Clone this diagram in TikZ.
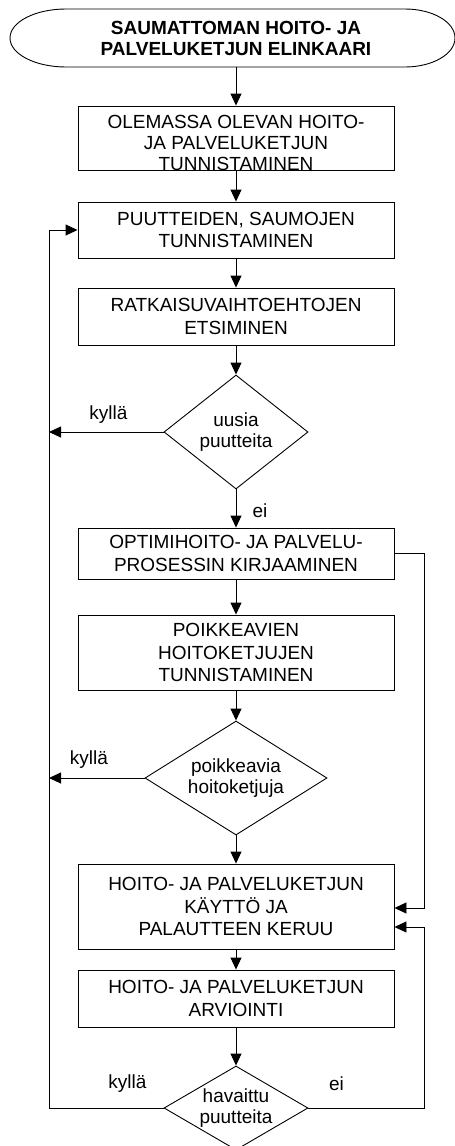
\documentclass[tikz,border=0pt]{standalone}
\usepackage{fontspec}
\setmainfont{Liberation Sans}
\usetikzlibrary{shapes.geometric,arrows.meta,calc}
\begin{document}
\begin{tikzpicture}[x=1pt,y=1pt,
  every node/.style={font=\fontsize{19}{22.5}\selectfont},
  procbox/.style={draw, line width=0.9pt, minimum width=316pt, inner sep=0pt, align=center},
  decision/.style={draw, diamond, line width=0.9pt, inner sep=0pt, align=center,
    font=\fontsize{19}{21.5}\selectfont},
  flow/.style={line width=0.9pt, -{Triangle[length=12pt,width=11pt]}},
  lbl/.style={inner sep=0pt}]
\clip (0,0) rectangle (455,-1146);

% terminator with elliptical ends
\draw[line width=0.9pt] (66,-9) -- (405,-9)
  arc[start angle=90,end angle=-90,x radius=50,y radius=29] -- (66,-67)
  arc[start angle=270,end angle=90,x radius=56,y radius=29] -- cycle;
\node[minimum height=58pt, inner sep=0pt, align=center,
  font=\bfseries\fontsize{19}{21}\selectfont] (title) at (236,-38)
  {SAUMATTOMAN HOITO- JA\\PALVELUKETJUN ELINKAARI};

% process boxes
\node[procbox, minimum height=64pt] (b1) at (236,-138) {};
\node[lbl, align=center, font=\fontsize{19}{20.9}\selectfont] (b1text) at (236,-142.7)
  {OLEMASSA OLEVAN HOITO-\\JA PALVELUKETJUN\\TUNNISTAMINEN};
\node[procbox, minimum height=56pt] (b2) at (236,-230) {PUUTTEIDEN, SAUMOJEN\\TUNNISTAMINEN};
\node[procbox, minimum height=57pt] (b3) at (236,-316.5) {RATKAISUVAIHTOEHTOJEN\\ETSIMINEN};
\node[decision, minimum width=144pt, minimum height=114pt, aspect=1.263] (d1) at (236,-432)
  {uusia\\puutteita};
\node[procbox, minimum height=51pt] (b4) at (236,-553.5) {OPTIMIHOITO- JA PALVELU-\\PROSESSIN KIRJAAMINEN};
\node[procbox, minimum height=75pt] (b5) at (236,-652.5) {POIKKEAVIEN\\HOITOKETJUJEN\\TUNNISTAMINEN};
\node[decision, minimum width=182pt, minimum height=114pt, aspect=1.6] (d2) at (236,-778)
  {poikkeavia\\hoitoketjuja};
\node[procbox, minimum height=85pt] (b6) at (236,-906.5) {HOITO- JA PALVELUKETJUN\\KÄYTTÖ JA\\PALAUTTEEN KERUU};
\node[procbox, minimum height=57pt] (b7) at (236,-998.5) {HOITO- JA PALVELUKETJUN\\ARVIOINTI};
\node[decision, minimum width=144pt, minimum height=84pt, aspect=1.714] (d3) at (236,-1108)
  {havaittu\\puutteita};

% branch labels
\node[lbl] (yes1) at (108.5,-415) {kyllä};
\node[lbl] (no1) at (260,-511) {ei};
\node[lbl] (yes2) at (89,-760) {kyllä};
\node[lbl] (yes3) at (127.5,-1084) {kyllä};
\node[lbl] (no3) at (336.5,-1084) {ei};

% return rails
\coordinate (lx) at (49,0);
\coordinate (rx) at (424,0);

% main flow
\draw[flow] (title.south) -- (b1.north);
\draw[flow] (b1.south) -- (b2.north);
\draw[flow] (b2.south) -- (b3.north);
\draw[flow] (b3.south) -- (d1.north);
\draw[flow] (d1.south) -- (b4.north);
\draw[flow] (b4.south) -- (b5.north);
\draw[flow] (b5.south) -- (d2.north);
\draw[flow] (d2.south) -- (b6.north);
\draw[flow] (b6.south) -- (b7.north);
\draw[flow] (b7.south) -- (d3.north);

% loops back
\draw[flow] (d1.west) -- (d1.west -| lx);
\draw[flow] (d2.west) -- (d2.west -| lx);
\draw[flow] (d3.west) -- (d3.west -| lx) |- (b2.west);
\draw[flow] (b4.east) -- (b4.east -| rx) |- ([yshift=-1.5pt]b6.east);
\draw[flow] (d3.east) -- (d3.east -| rx) |- ([yshift=-20.5pt]b6.east);
\end{tikzpicture}
\end{document}
